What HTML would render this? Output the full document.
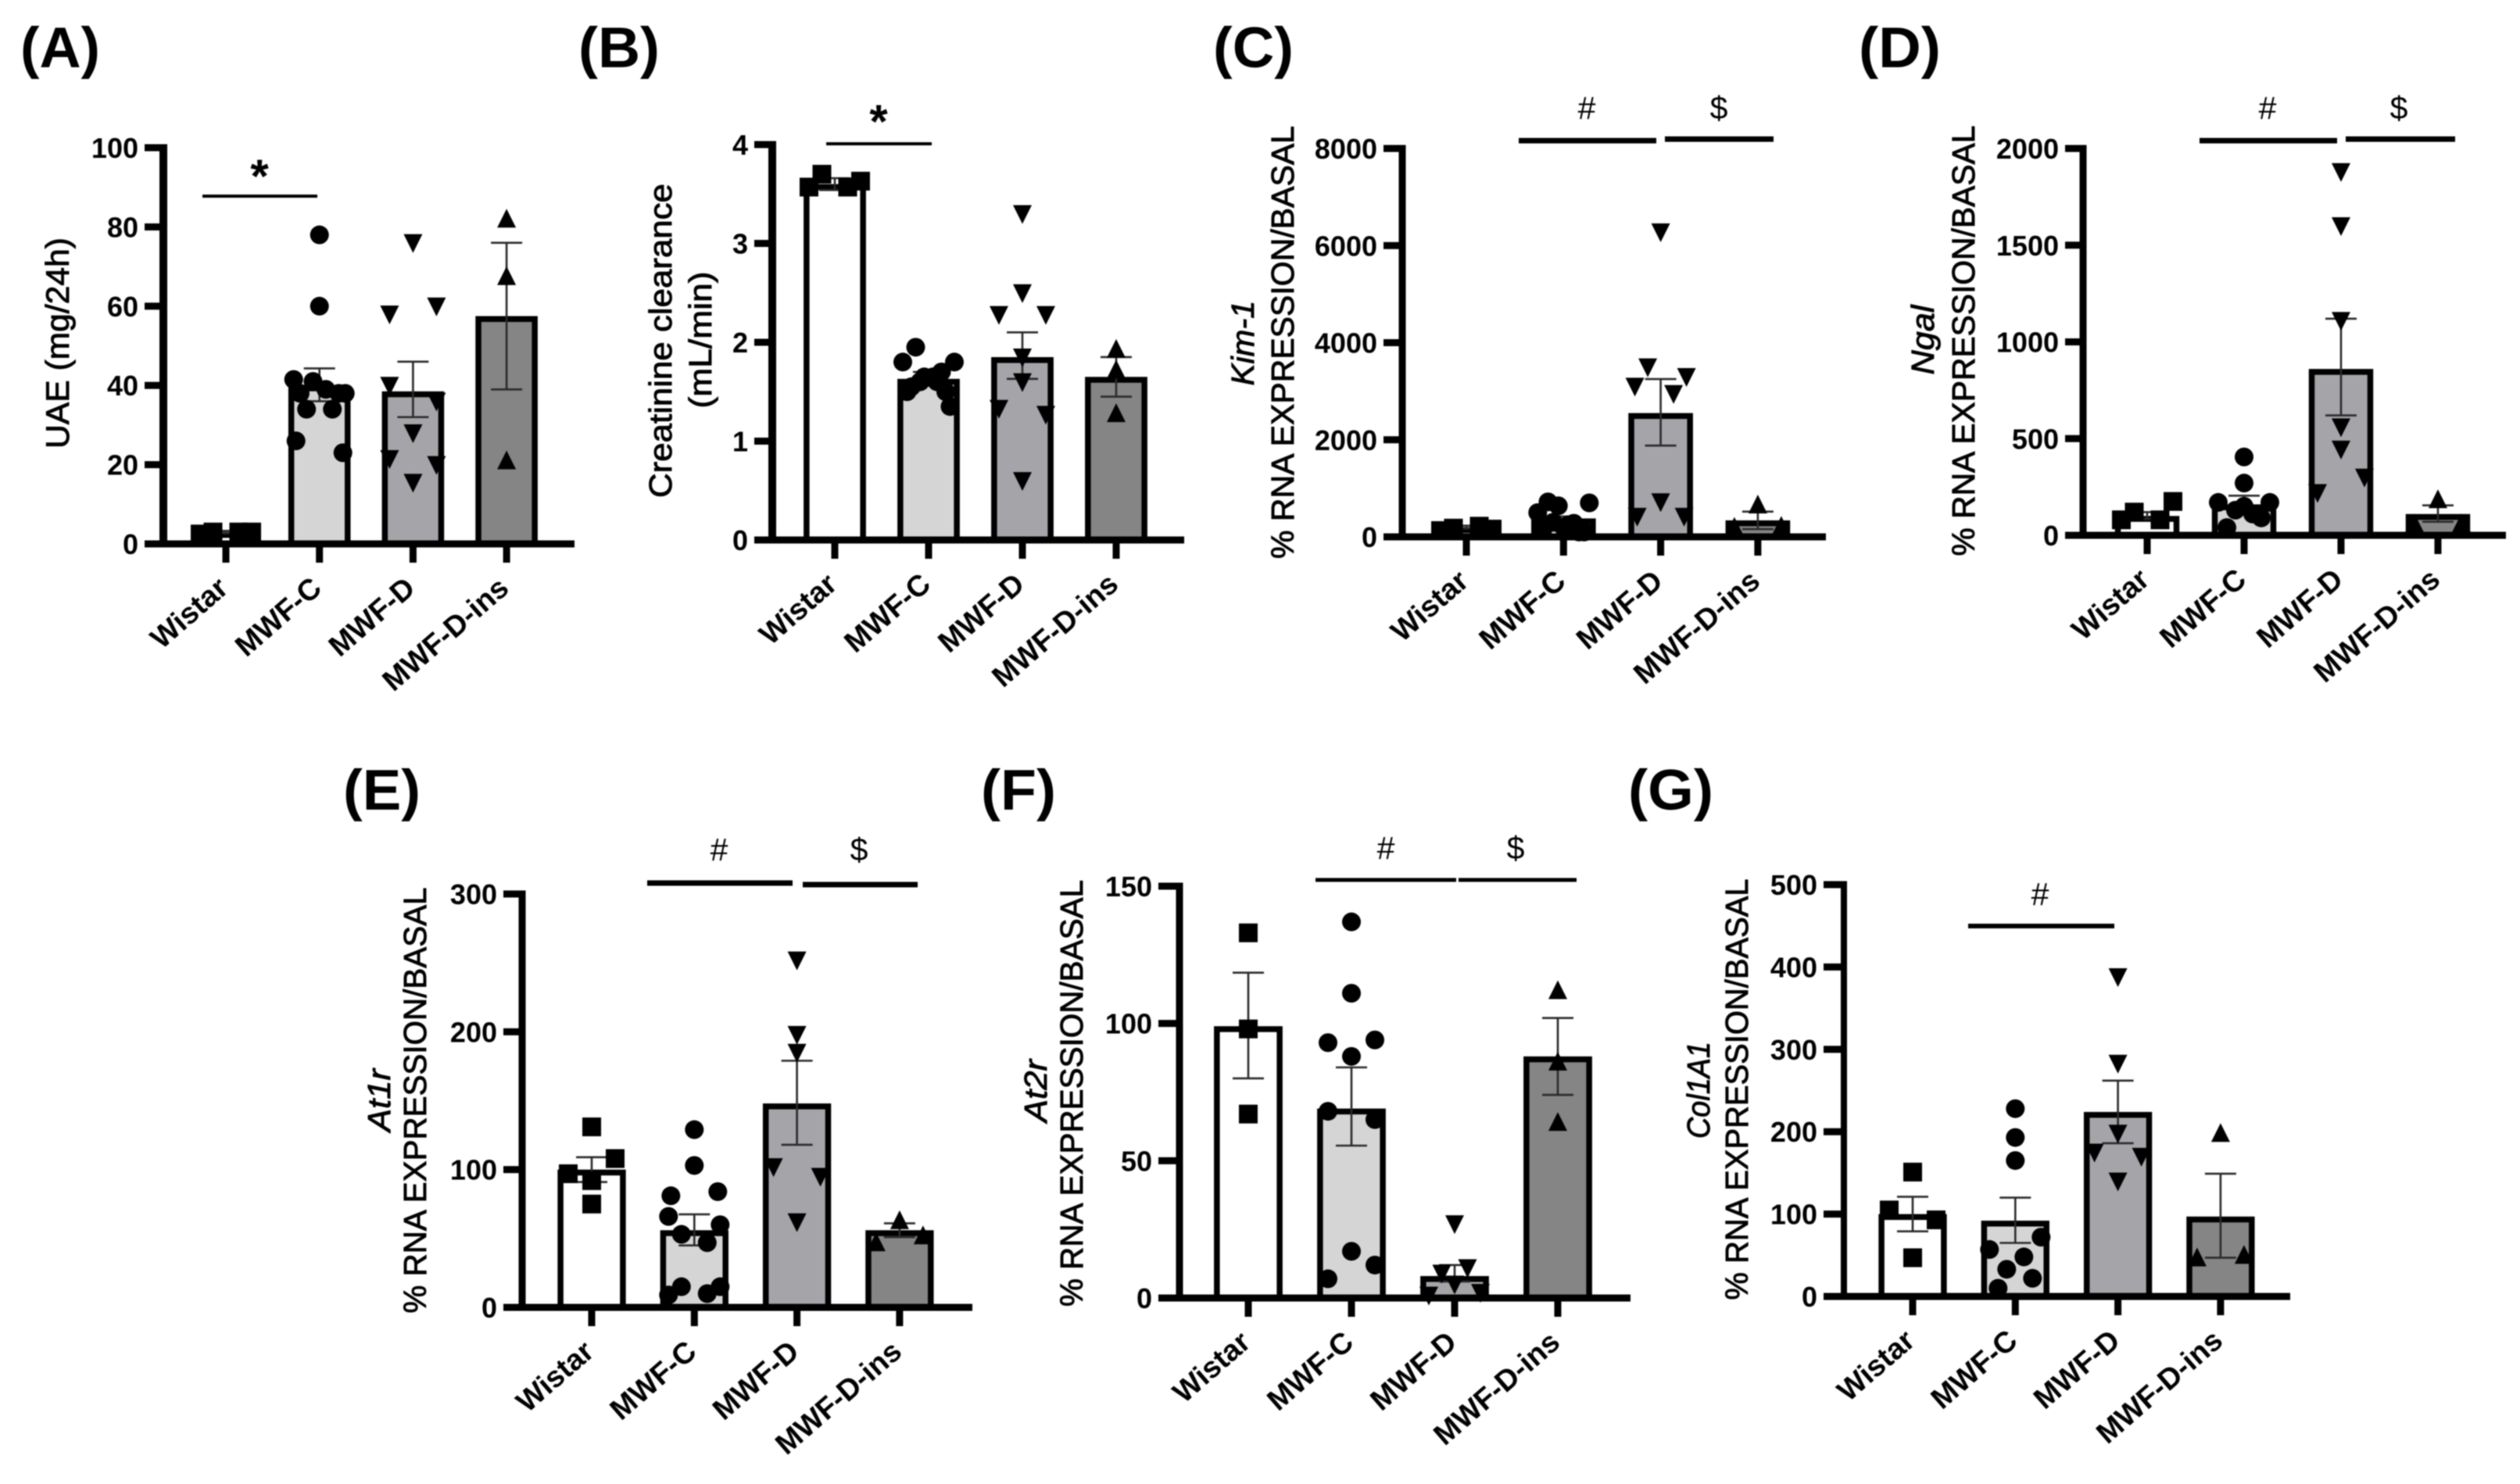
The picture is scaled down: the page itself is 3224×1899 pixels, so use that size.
<!DOCTYPE html>
<html lang="en">
<head>
<meta charset="utf-8">
<title>Renal function and gene expression panels</title>
<style>
html,body{margin:0;padding:0;background:#fff;}
svg{display:block;filter:blur(0.8px);}
text{font-family:"Liberation Sans",sans-serif;fill:#000;}
</style>
</head>
<body>
<svg id="figure" xmlns="http://www.w3.org/2000/svg" width="3224" height="1899" viewBox="0 0 3224 1899"></svg>
<script>
const categories = ['Wistar', 'MWF-C', 'MWF-D', 'MWF-D-ins'];

const aTicks = [0, 20, 40, 60, 80, 100];
const aMeans = [3, 40, 38.5, 57.5];
const aErrHi = [3.3, 44.3, 46, 76];
const aErrLo = [2.7, 36, 32, 39];
const aWistar = [3, 3, 2.5, 3];
const aMwfC = [78, 60, 41, 39, 34, 34, 38, 38, 41.5, 38, 26, 23];
const aMwfD = [76, 58, 60, 40, 36, 28, 21.5, 20, 15.5];
const aMwfDIns = [82, 67.5, 21];

const bTicks = [0, 1, 2, 3, 4];
const bMeans = [3.6, 1.63, 1.85, 1.65];
const bErrHi = [3.66, 1.7, 2.1, 1.85];
const bErrLo = [3.54, 1.56, 1.63, 1.45];
const bWistar = [3.7, 3.57, 3.57, 3.63];
const bMwfC = [1.65, 1.65, 1.6, 1.6, 1.95, 1.7, 1.55, 1.5, 1.5, 1.35, 1.8, 1.8];
const bMwfD = [3.3, 2.5, 2.28, 2.28, 1.85, 1.6, 1.33, 1.27, 0.6];
const bMwfDIns = [1.93, 1.72, 1.28];

const cTicks = [0, 2000, 4000, 6000, 8000];
const cMeans = [200, 380, 2550, 340];
const cErrHi = [230, 420, 3250, 520];
const cErrLo = [170, 340, 1880, 160];
const cWistar = [180, 220, 130, 160];
const cMwfC = [200, 640, 250, 300, 280, 720, 100, 150, 100, 500, 700];
const cMwfD = [6280, 3500, 2950, 3100, 3300, 720, 420, 420];
const cMwfDIns = [660, 200, 220];

const dTicks = [0, 500, 1000, 1500, 2000];
const dMeans = [100, 160, 860, 110];
const dErrHi = [120, 205, 1120, 155];
const dErrLo = [85, 120, 620, 70];
const dWistar = [120, 80, 80, 175];
const dMwfC = [405, 270, 150, 130, 110, 40, 90, 170, 170];
const dMwfD = [1880, 1600, 1110, 560, 445, 220, 300];
const dMwfDIns = [185, 60, 60];

const eTicks = [0, 100, 200, 300];
const eMeans = [100, 56, 148, 56];
const eErrHi = [109, 67.5, 179, 61];
const eErrLo = [91, 45, 118, 51];
const eWistar = [131, 92, 97, 108, 75];
const eMwfC = [129, 103, 81, 84, 53, 47, 66, 60, 15, 10, 9, 15];
const eMwfD = [252, 198, 185, 102, 95, 62];
const eMwfDIns = [63, 47, 52];

const fTicks = [0, 50, 100, 150];
const fMeans = [99, 69, 8, 88];
const fErrHi = [118.5, 84, 12, 102];
const fErrLo = [80, 55.5, 6, 74];
const fWistar = [133, 98, 67];
const fMwfC = [137, 111, 88, 93, 94, 68, 65, 17, 7, 12];
const fMwfD = [27, 5, 9, 11, 1, 2];
const fMwfDIns = [112, 86, 64];

const gTicks = [0, 100, 200, 300, 400, 500];
const gMeans = [100, 92, 224, 97];
const gErrHi = [121, 120, 262, 149];
const gErrLo = [79, 65, 186, 47];
const gWistar = [151, 105, 93, 47];
const gMwfC = [228, 193, 165, 33, 48, 10, 22, 57, 72];
const gMwfD = [388, 283, 198, 175, 170, 140];
const gMwfDIns = [198, 47, 50];

const barFills = ['#ffffff', '#d5d5d5', '#a4a4a9', '#858585'];
const markerKinds = ['square', 'circle', 'triangle-down', 'triangle-up'];

const panels = [
  {id:'a', letter:'(A)', lx:26, lw:102, ly:86, axisX:209, axisW:10, tickX:185, y0:696, yTop:189, yMax:100, x0:289, step:119.7, xEnd:735,
   ticks:aTicks, means:aMeans, hi:aErrHi, lo:aErrLo, groups:[aWistar,aMwfC,aMwfD,aMwfDIns],
   titles:[{t:'UAE (mg/24h)', x:88, cy:439, len:270, fs:42}],
   sig:[{x1:259,x2:406,y:251,w:4,sym:'*',sx:332,sy:213}]},
  {id:'b', letter:'(B)', lx:740, lw:104, ly:86, axisX:988, axisW:10, tickX:965, y0:691, yTop:185, yMax:4, x0:1068, step:120, xEnd:1515,
   ticks:bTicks, means:bMeans, hi:bErrHi, lo:bErrLo, groups:[bWistar,bMwfC,bMwfD,bMwfDIns],
   titles:[{t:'Creatinine clearance', x:859, cy:436, len:402, fs:41},{t:'(mL/min)', x:910, cy:435, len:175, fs:41}],
   sig:[{x1:1057,x2:1192,y:184,w:4,sym:'*',sx:1124,sy:143}]},
  {id:'c', letter:'(C)', lx:1552, lw:103, ly:86, axisX:1794, axisW:9, tickX:1770, y0:687, yTop:190, yMax:8000, x0:1876, step:124.3, xEnd:2336,
   ticks:cTicks, means:cMeans, hi:cErrHi, lo:cErrLo, groups:[cWistar,cMwfC,cMwfD,cMwfDIns],
   titles:[{t:'Kim-1', x:1604, cy:439, len:109, fs:41, it:true},{t:'% RNA EXPRESSION/BASAL', x:1655, cy:438, len:554, fs:41}],
   sig:[{x1:1943,x2:2119,y:180,w:7,sym:'#',sx:2030,sy:138},{x1:2130,x2:2269,y:178,w:7,sym:'$',sx:2199,sy:138}]},
  {id:'d', letter:'(D)', lx:2378, lw:105, ly:86, axisX:2665, axisW:9, tickX:2642, y0:685, yTop:190, yMax:2000, x0:2747, step:124, xEnd:3206,
   ticks:dTicks, means:dMeans, hi:dErrHi, lo:dErrLo, groups:[dWistar,dMwfC,dMwfD,dMwfDIns],
   titles:[{t:'Ngal', x:2474, cy:435, len:89, fs:41, it:true},{t:'% RNA EXPRESSION/BASAL', x:2526, cy:436, len:551, fs:41}],
   sig:[{x1:2814,x2:2990,y:180,w:7,sym:'#',sx:2901,sy:138},{x1:3001,x2:3141,y:178,w:7,sym:'$',sx:3069,sy:138}]},
  {id:'e', letter:'(E)', lx:439, lw:99, ly:1036, axisX:668, axisW:9, tickX:644, y0:1673, yTop:1144, yMax:300, x0:757, step:131.3, xEnd:1244,
   ticks:eTicks, means:eMeans, hi:eErrHi, lo:eErrLo, groups:[eWistar,eMwfC,eMwfD,eMwfDIns],
   titles:[{t:'At1r', x:499, cy:1408, len:80, fs:41, it:true},{t:'% RNA EXPRESSION/BASAL', x:545, cy:1408, len:545, fs:41}],
   sig:[{x1:828,x2:1014,y:1130,w:7,sym:'#',sx:920,sy:1087},{x1:1027,x2:1174,y:1132,w:7,sym:'$',sx:1099,sy:1087}]},
  {id:'f', letter:'(F)', lx:1255, lw:96, ly:1036, axisX:1509, axisW:9, tickX:1482, y0:1661, yTop:1134, yMax:150, x0:1597, step:132, xEnd:2086,
   ticks:fTicks, means:fMeans, hi:fErrHi, lo:fErrLo, groups:[fWistar,fMwfC,fMwfD,fMwfDIns],
   titles:[{t:'At2r', x:1339, cy:1396, len:80, fs:41, it:true},{t:'% RNA EXPRESSION/BASAL', x:1385, cy:1399, len:546, fs:41}],
   sig:[{x1:1683,x2:1863,y:1126,w:5,sym:'#',sx:1773,sy:1085},{x1:1866,x2:2017,y:1126,w:5,sym:'$',sx:1939,sy:1085}]},
  {id:'g', letter:'(G)', lx:2083, lw:109, ly:1036, axisX:2359, axisW:8, tickX:2333, y0:1659, yTop:1132, yMax:500, x0:2447, step:131.3, xEnd:2930,
   ticks:gTicks, means:gMeans, hi:gErrHi, lo:gErrLo, groups:[gWistar,gMwfC,gMwfD,gMwfDIns],
   titles:[{t:'Col1A1', x:2187, cy:1395, len:124, fs:41, it:true},{t:'% RNA EXPRESSION/BASAL', x:2236, cy:1394, len:539, fs:41}],
   sig:[{x1:2518,x2:2705,y:1185,w:6,sym:'#',sx:2610,sy:1144}]}
];

const NS = 'http://www.w3.org/2000/svg';
const figure = document.getElementById('figure');

function make(tag, parent, attrs) {
  const el = document.createElementNS(NS, tag);
  for (const k in attrs) el.setAttribute(k, attrs[k]);
  parent.appendChild(el);
  return el;
}

/* Prism-like swarm: points close in value share a row and spread sideways.
   Array order decides who sits nearest the bar centre. */
function swarmOffsets(pixelYs) {
  const order = pixelYs.map((y, i) => [y, i]).sort((a, b) => a[0] - b[0]);
  const offsets = new Array(pixelYs.length).fill(0);
  let start = 0;
  for (let i = 1; i <= order.length; i++) {
    if (i === order.length || order[i][0] - order[i - 1][0] >= 21.5) {
      const members = order.slice(start, i).map(p => p[1]).sort((a, b) => a - b);
      const n = members.length;
      const levels = Math.floor(n / 2);
      const unit = levels ? Math.min(30, 33 / levels) : 0;
      members.forEach((idx, k) => {
        const rank = n % 2 ? k : k + 1;
        if (rank === 0) return;
        const level = Math.ceil(rank / 2);
        const sign = rank % 2 === 1 ? -1 : 1;
        offsets[idx] = sign * level * unit;
      });
      start = i;
    }
  }
  return offsets;
}

function drawMarker(parent, kind, cx, cy) {
  const r = 12;
  let el;
  if (kind === 'square') {
    el = make('rect', parent, {x: cx - r, y: cy - r, width: 2 * r, height: 2 * r, fill: '#000'});
  } else if (kind === 'circle') {
    el = make('circle', parent, {cx: cx, cy: cy, r: r, fill: '#000'});
  } else if (kind === 'triangle-down') {
    el = make('polygon', parent, {points: (cx - r) + ',' + (cy - 11) + ' ' + (cx + r) + ',' + (cy - 11) + ' ' + cx + ',' + (cy + 13), fill: '#000'});
  } else {
    el = make('polygon', parent, {points: (cx - r) + ',' + (cy + 11) + ' ' + (cx + r) + ',' + (cy + 11) + ' ' + cx + ',' + (cy - 13), fill: '#000'});
  }
  return el;
}

panels.forEach(p => {
  const yScale = v => p.y0 - (v / p.yMax) * (p.y0 - p.yTop);
  const xScale = i => p.x0 + p.step * i;

  const g = make('g', figure, {});
  
  

  const letter = make('text', g, {x: p.lx, y: p.ly, 'font-size': 73, 'font-weight': 'bold', textLength: p.lw, lengthAdjust: 'spacingAndGlyphs'});
  letter.textContent = p.letter;
  
  

  /* bars */
  const barOuter = p.step * 0.665;
  p.means.forEach((m, i) => {
    const top = yScale(m);
    const bar = make('rect', g, {x: xScale(i) - barOuter / 2 + 3.75, y: top + 3.75, width: barOuter - 7.5, height: Math.max(0, p.y0 - top - 3.75), fill: barFills[i], stroke: '#000', 'stroke-width': 7.5});
    
    
  });

  /* axes */
  const xAxis = make('rect', g, {x: p.tickX, y: p.y0 - 4.5, width: p.xEnd - p.tickX, height: 9, fill: '#000'});
  
  
  const yAxis = make('rect', g, {x: p.axisX - p.axisW / 2, y: p.yTop - 4.5, width: p.axisW, height: p.y0 - p.yTop + 9, fill: '#000'});
  
  

  p.ticks.forEach(t => {
    const y = yScale(t);
    const tick = make('rect', g, {x: p.tickX, y: y - 4.5, width: p.axisX - p.tickX, height: 9, fill: '#000'});
    
    
    const lab = make('text', g, {x: p.tickX - 8, y: y + 13, 'font-size': 36, 'font-weight': 'bold', 'text-anchor': 'end'});
    lab.textContent = t;
    
    
  });

  categories.forEach((c, i) => {
    const x = xScale(i);
    const tick = make('rect', g, {x: x - 4.5, y: p.y0, width: 9, height: 24, fill: '#000'});
    
    
    const lab = make('text', g, {transform: 'translate(' + (x + 5) + ' ' + (p.y0 + 60) + ') rotate(-41)', 'font-size': 38, 'font-weight': 'bold', 'text-anchor': 'end'});
    lab.textContent = c;
    
    
  });

  /* error bars */
  p.means.forEach((m, i) => {
    const x = xScale(i);
    const yh = yScale(p.hi[i]);
    const yl = yScale(p.lo[i]);
    const d = 'M' + x + ' ' + yh + 'V' + yl + 'M' + (x - 20) + ' ' + yh + 'H' + (x + 20) + 'M' + (x - 20) + ' ' + yl + 'H' + (x + 20);
    const err = make('path', g, {d: d, stroke: '#2a2a2a', 'stroke-width': 2.6, fill: 'none'});
    
    
  });

  /* points */
  p.groups.forEach((vals, i) => {
    const ys = vals.map(yScale);
    const off = swarmOffsets(ys);
    ys.forEach((y, k) => {
      const mark = drawMarker(g, markerKinds[i], xScale(i) + off[k], y);
      
      
    });
  });

  /* y titles */
  p.titles.forEach(t => {
    const attrs = {transform: 'translate(' + t.x + ' ' + t.cy + ') rotate(-90)', 'font-size': t.fs, 'text-anchor': 'middle', stroke: '#000', 'stroke-width': 0.9, textLength: t.len, lengthAdjust: 'spacingAndGlyphs'};
    if (t.it) attrs['font-style'] = 'italic';
    const el = make('text', g, attrs);
    el.textContent = t.t;
    
    
  });

  /* significance */
  p.sig.forEach(s => {
    const line = make('rect', g, {x: s.x1, y: s.y - s.w / 2, width: s.x2 - s.x1, height: s.w, fill: '#000'});
    
    
    const star = s.sym === '*';
    const sym = make('text', g, {x: s.sx, y: s.sy + (star ? 33 : 14), 'font-size': star ? 60 : 41, 'font-weight': star ? 'bold' : 'normal', 'text-anchor': 'middle'});
    sym.textContent = s.sym;
    
    
  });
});
</script>
</body>
</html>
